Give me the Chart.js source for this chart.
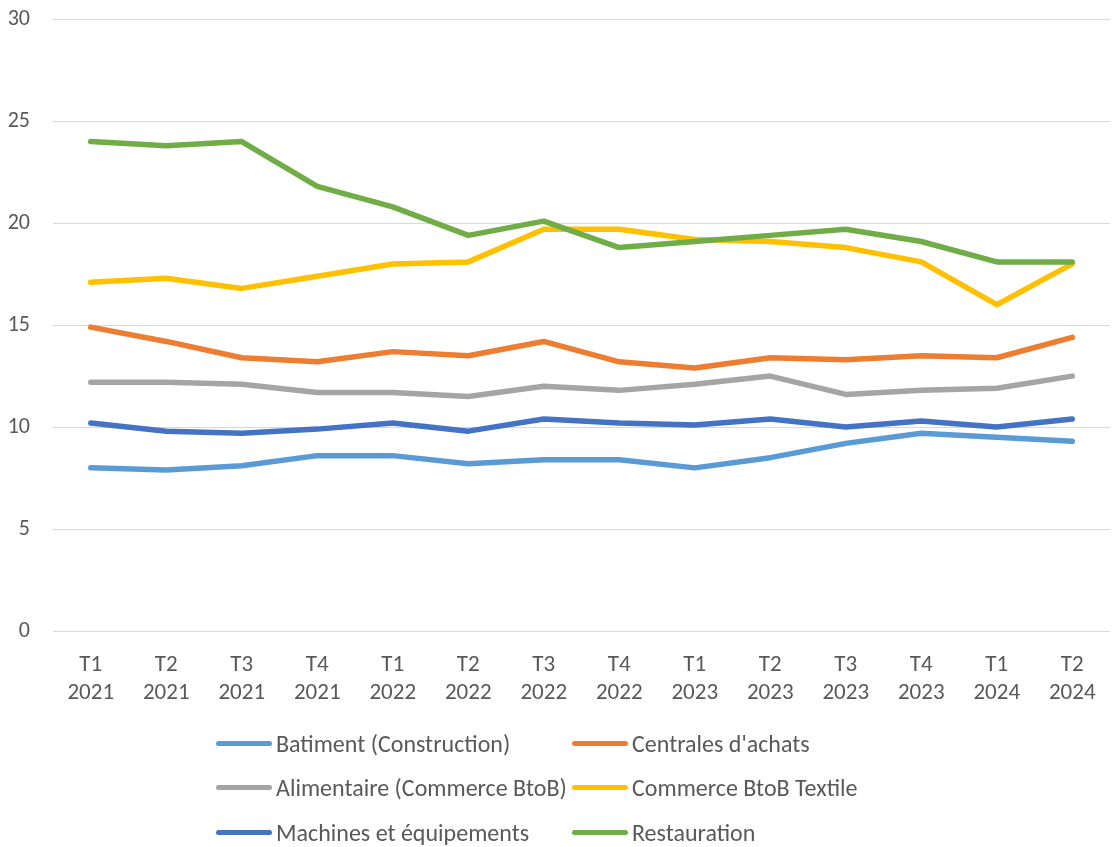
<!DOCTYPE html>
<html lang="fr">
<head>
<meta charset="utf-8">
<title>Délais de paiement par secteur</title>
<script src="https://cdn.jsdelivr.net/npm/chart.js@4.4.1/dist/chart.umd.min.js"></script>
<style>
    html, body { margin: 0; padding: 0; background: #fff; overflow: hidden; }
    #wrap { position: relative; width: 1112px; height: 847px; overflow: hidden; }
    #chartBox { position: absolute; left: 0; top: -17px; width: 1112px; height: 742px; }
    #legend {
        position: absolute; left: 216px; top: 721px;
        display: grid; grid-template-columns: 356px auto; grid-auto-rows: 44.5px;
        font-family: Carlito, "Open Sans", sans-serif; font-size: 24px; color: #595959;
    }
    .item { display: flex; align-items: center; white-space: nowrap; }
    .swatch { width: 56px; height: 5px; border-radius: 3px; margin-right: 4px; }
</style>
</head>
<body>
<div id="wrap">
    <div id="chartBox"><canvas id="sectorChart"></canvas></div>
    <div id="legend"></div>
</div>
<script>
// Quarters on the x axis (two-line labels)
const quarters = [
    ['T1', '2021'], ['T2', '2021'], ['T3', '2021'], ['T4', '2021'],
    ['T1', '2022'], ['T2', '2022'], ['T3', '2022'], ['T4', '2022'],
    ['T1', '2023'], ['T2', '2023'], ['T3', '2023'], ['T4', '2023'],
    ['T1', '2024'], ['T2', '2024']
];

const batiment     = [8.0, 7.9, 8.1, 8.6, 8.6, 8.2, 8.4, 8.4, 8.0, 8.5, 9.2, 9.7, 9.5, 9.3];
const centrales    = [14.9, 14.2, 13.4, 13.2, 13.7, 13.5, 14.2, 13.2, 12.9, 13.4, 13.3, 13.5, 13.4, 14.4];
const alimentaire  = [12.2, 12.2, 12.1, 11.7, 11.7, 11.5, 12.0, 11.8, 12.1, 12.5, 11.6, 11.8, 11.9, 12.5];
const textile      = [17.1, 17.3, 16.8, 17.4, 18.0, 18.1, 19.7, 19.7, 19.2, 19.1, 18.8, 18.1, 16.0, 18.0];
const machines     = [10.2, 9.8, 9.7, 9.9, 10.2, 9.8, 10.4, 10.2, 10.1, 10.4, 10.0, 10.3, 10.0, 10.4];
const restauration = [24.0, 23.8, 24.0, 21.8, 20.8, 19.4, 20.1, 18.8, 19.1, 19.4, 19.7, 19.1, 18.1, 18.1];

const seriesNames  = ['Batiment (Construction)', "Centrales d'achats", 'Alimentaire (Commerce BtoB)',
                      'Commerce BtoB Textile', 'Machines et équipements', 'Restauration'];
const seriesData   = [batiment, centrales, alimentaire, textile, machines, restauration];
const seriesColors = ['#5B9BD5', '#ED7D31', '#A5A5A5', '#FFC000', '#4472C4', '#70AD47'];

const FONT = "Carlito, 'Open Sans', sans-serif";
const TEXT_COLOR = '#595959';

const datasets = seriesNames.map((name, i) => ({
    label: name,
    data: seriesData[i],
    borderColor: seriesColors[i],
    backgroundColor: seriesColors[i],
    borderWidth: 5.5,
    borderCapStyle: 'round',
    borderJoinStyle: 'round',
    pointRadius: 0,
    tension: 0,
    // later series are painted over earlier ones
    order: seriesNames.length - i
}));

const ctx = document.getElementById('sectorChart').getContext('2d');
const sectorChart = new Chart(ctx, {
    type: 'line',
    data: { labels: quarters, datasets: datasets },
    options: {
        responsive: true,
        maintainAspectRatio: false,
        animation: false,
        layout: { padding: { top: 7, right: 2, bottom: 6, left: 0 } },
        plugins: {
            legend: { display: false },
            tooltip: { enabled: false }
        },
        scales: {
            x: {
                offset: true,
                grid: { display: false },
                border: { display: false },
                ticks: {
                    color: TEXT_COLOR,
                    font: { family: FONT, size: 23, lineHeight: 1.217 },
                    padding: 12,
                    maxRotation: 0,
                    autoSkip: false
                }
            },
            y: {
                min: 0,
                max: 30,
                afterFit: (axis) => { axis.width = 53; },
                grid: { color: '#D9D9D9', lineWidth: 1, drawTicks: false },
                border: { display: false },
                ticks: {
                    stepSize: 5,
                    color: TEXT_COLOR,
                    font: { family: FONT, size: 22 },
                    padding: 23
                }
            }
        }
    }
});

// Legend in two columns, built from the chart's own datasets
const legendEl = document.getElementById('legend');
sectorChart.data.datasets.forEach(ds => {
    const item = document.createElement('div');
    item.className = 'item';
    const sw = document.createElement('span');
    sw.className = 'swatch';
    sw.style.background = ds.borderColor;
    const txt = document.createElement('span');
    txt.textContent = ds.label;
    item.appendChild(sw);
    item.appendChild(txt);
    legendEl.appendChild(item);
});
</script>
</body>
</html>
